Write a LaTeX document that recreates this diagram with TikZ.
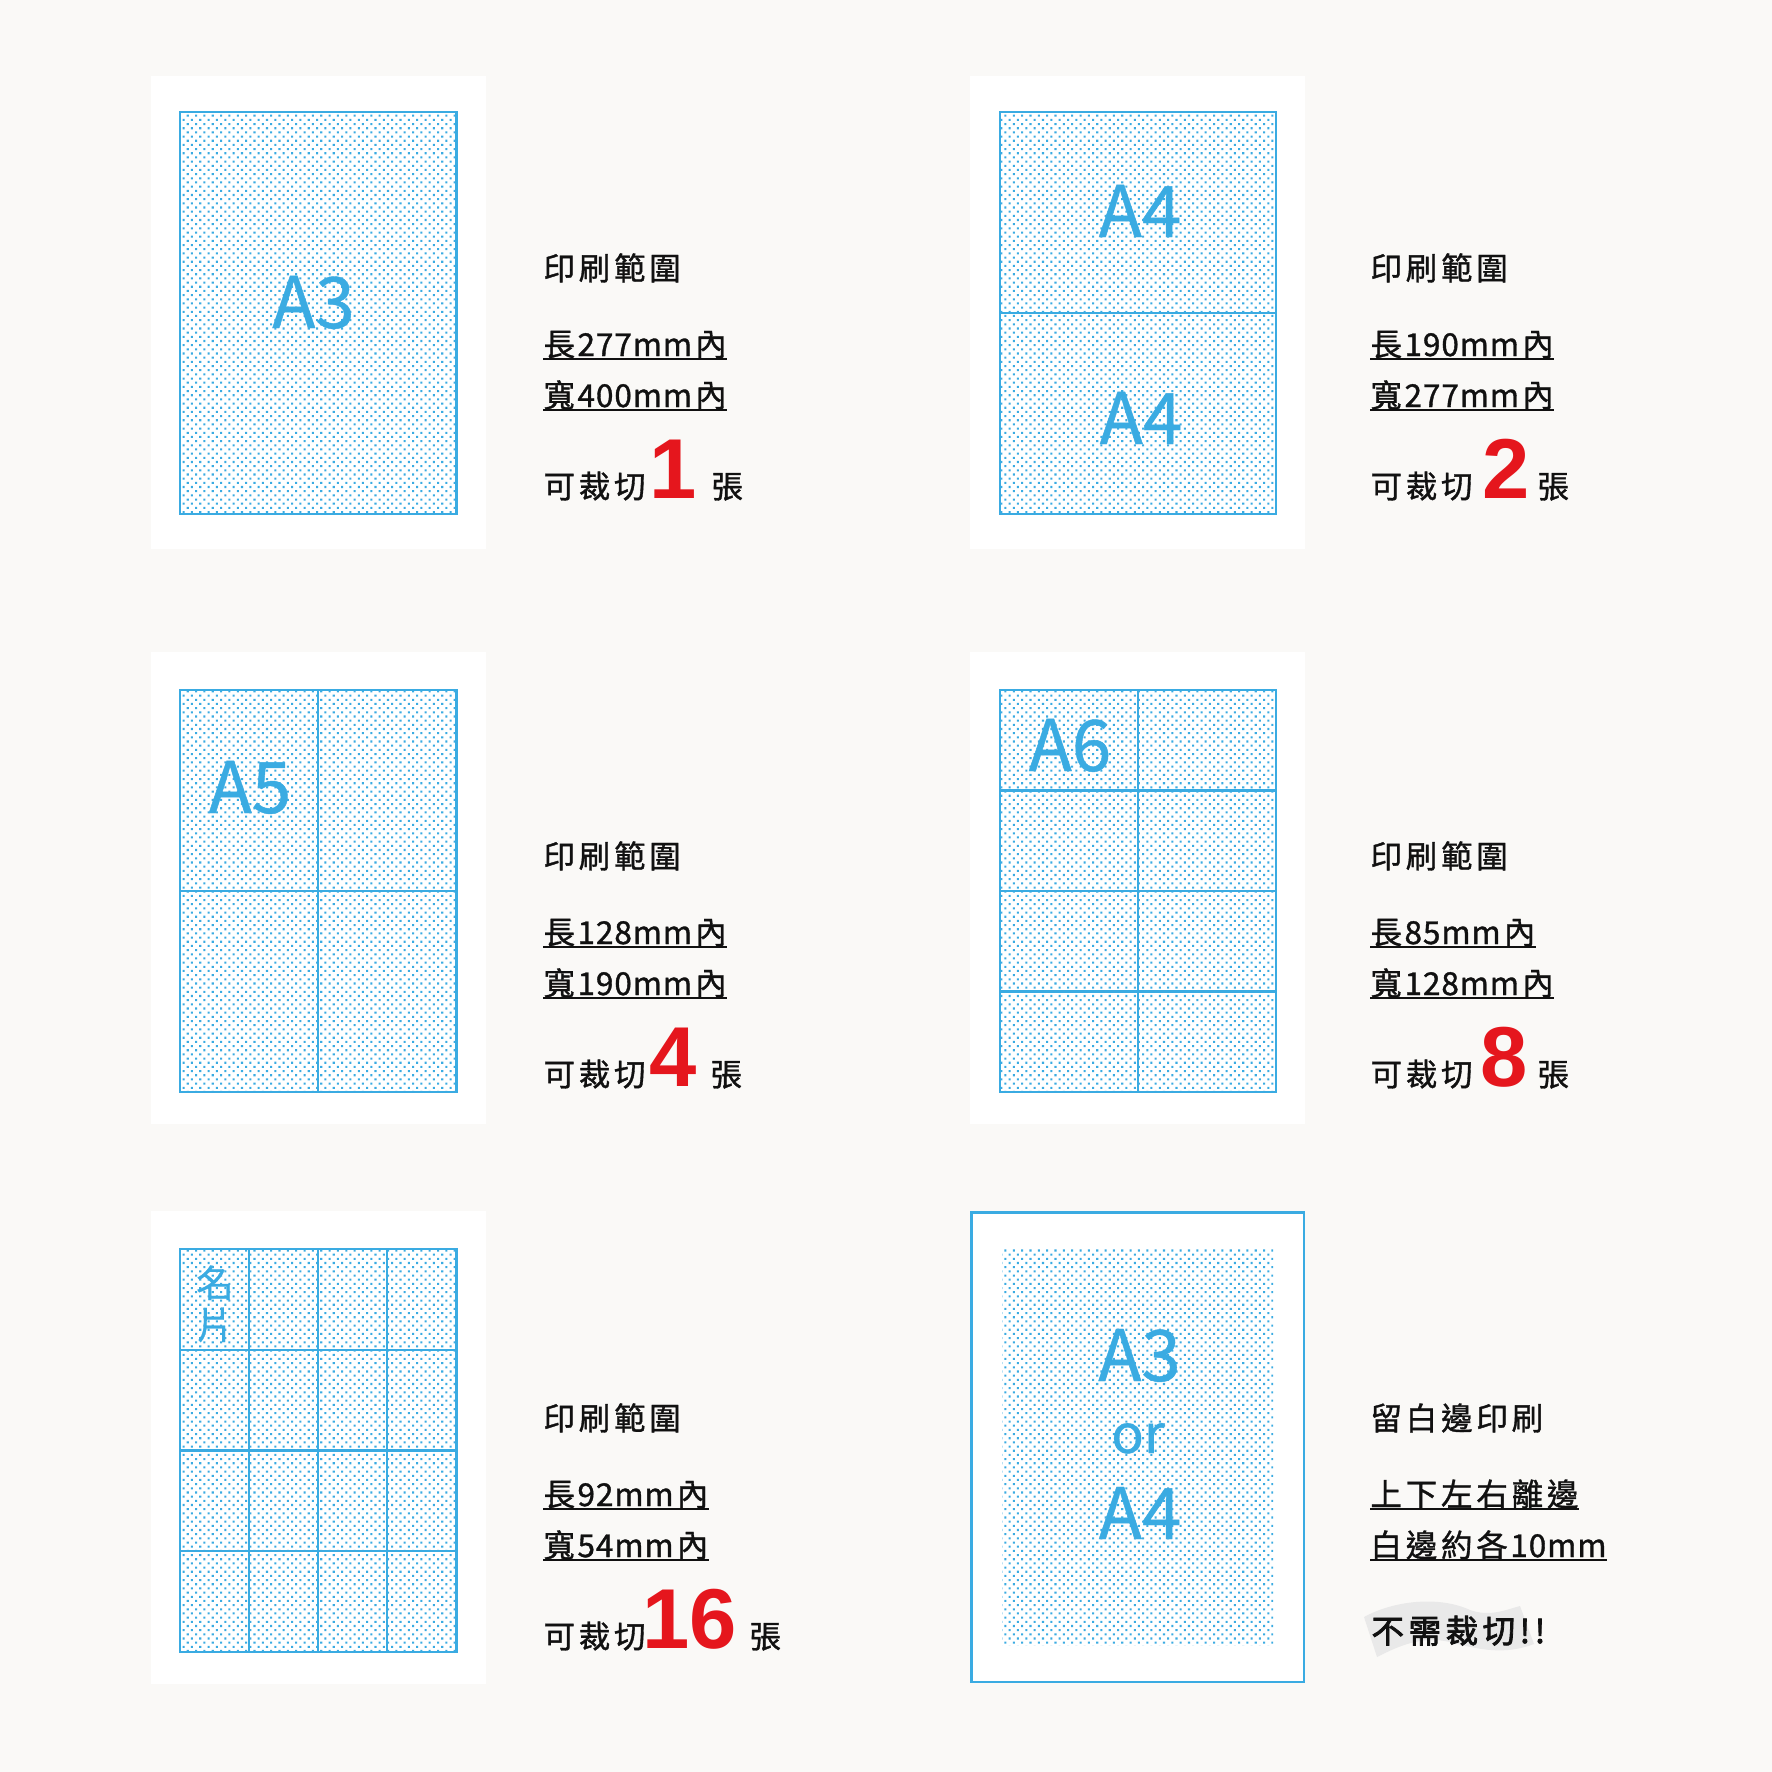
\documentclass[tikz,border=0pt]{standalone}
\usepackage{fontspec}
\setmainfont{Noto Sans CJK TC}
\newfontfamily\cjk[LetterSpace=12,FakeBold=1.1]{Noto Sans CJK TC}
\newfontfamily\latf[LetterSpace=3,FakeBold=1.1]{Noto Sans CJK TC}
\newfontfamily\cjkhv[LetterSpace=14,FakeBold=2.4]{Noto Sans CJK TC}
\newfontfamily\lab[FakeBold=0.6]{Noto Sans CJK TC}
\newfontfamily\numf{Liberation Sans}
\newcommand\latpart[1]{\hspace{0.08em}{\latf #1}\hspace{0.1em}}
\usetikzlibrary{patterns.meta}
\definecolor{bg}{HTML}{FAF9F7}
\definecolor{pblue}{HTML}{3AABE2}
\definecolor{pred}{HTML}{E5161D}
\definecolor{ink}{HTML}{111111}
\definecolor{hl}{HTML}{E9E9E9}
\begin{document}
\begin{tikzpicture}[x=0.4pt,y=-0.4pt,
  panel/.style={fill=white},
  sheet/.style={pattern={Dots[distance=2.36pt,radius=0.58pt,angle=45]},pattern color=pblue},
  cutline/.style={draw=pblue,line width=0.85pt},
  body/.style={font=\cjk\fontsize{12.6}{14}\selectfont,text=ink,inner sep=0pt,anchor=base west},
  ul/.style={draw=ink,line width=0.85pt},
  bignum/.style={font=\numf\bfseries\fontsize{34}{36}\selectfont,text=pred,inner sep=0pt,anchor=base},
  sizelab/.style={font=\lab\fontsize{28.4}{30}\selectfont,text=pblue,inner sep=0pt,anchor=base},
  smalllab/.style={font=\lab\fontsize{15}{16}\selectfont,text=pblue,inner sep=0pt,anchor=base}
]
\useasboundingbox (0,0) rectangle (1772,1772);
\fill[bg] (0,0) rectangle (1772,1772);

% ---------- Panel 1: A3
\fill[panel] (151,76) rectangle (486,549);
\fill[sheet] (180,112) rectangle (456.5,514);
\draw[cutline] (180,112) rectangle (456.5,514);
\node[sizelab] (la3) at (313.5,328) {A3};

% ---------- Panel 2: A4 x2
\fill[panel] (970,76) rectangle (1305,549);
\fill[sheet] (1000,112) rectangle (1276,514);
\draw[cutline] (1000,112) rectangle (1276,514);
\draw[cutline] (1000,313) -- (1276,313);
\node[sizelab] (la4a) at (1140,237) {A4};
\node[sizelab] (la4b) at (1141,444) {A4};

% ---------- Panel 3: A5 x4
\fill[panel] (151,652) rectangle (486,1124);
\fill[sheet] (180,690) rectangle (456.5,1092);
\draw[cutline] (180,690) rectangle (456.5,1092);
\draw[cutline] (318.25,690) -- (318.25,1092);
\draw[cutline] (180,891) -- (456.5,891);
\node[sizelab] (la5) at (250,813) {A5};

% ---------- Panel 4: A6 x8
\fill[panel] (970,652) rectangle (1305,1124);
\fill[sheet] (1000,690) rectangle (1276,1092);
\draw[cutline] (1000,690) rectangle (1276,1092);
\draw[cutline] (1138,690) -- (1138,1092);
\foreach \yy in {790.5,891,991.5} \draw[cutline] (1000,\yy) -- (1276,\yy);
\node[sizelab] (la6) at (1070,771) {A6};

% ---------- Panel 5: business cards x16
\fill[panel] (151,1211) rectangle (486,1684);
\fill[sheet] (180,1249) rectangle (456.5,1652);
\draw[cutline] (180,1249) rectangle (456.5,1652);
\foreach \xx in {249.1,318.25,387.4} \draw[cutline] (\xx,1249) -- (\xx,1652);
\foreach \yy in {1349.75,1450.5,1551.25} \draw[cutline] (180,\yy) -- (456.5,\yy);
\node[smalllab] (lm1) at (215,1297) {名};
\node[smalllab] (lm2) at (215,1339) {片};

% ---------- Panel 6: A3 or A4 with margin
\fill[panel,draw=pblue,line width=0.85pt] (971.5,1212.5) rectangle (1304,1682);
\fill[sheet] (1002,1248) rectangle (1273,1645);
\node[sizelab] (lb3) at (1139.5,1381) {A3};
\node[sizelab,font=\lab\fontsize{21.5}{24}\selectfont] (lor) at (1138,1453) {or};
\node[sizelab] (lb4) at (1140,1539) {A4};

% ---------- Text block 1
\node[body] (t1a) at (543,280) {印刷範圍};
\node[body] (t1b) at (543,356) {長\latpart{277mm}內};
\node[body] (t1c) at (543,407) {寬\latpart{400mm}內};
\draw[ul] ([yshift=-1.2pt]t1b.base west) -- ([yshift=-1.2pt]t1b.base east);
\draw[ul] ([yshift=-1.2pt]t1c.base west) -- ([yshift=-1.2pt]t1c.base east);
\node[body] (t1d) at (543,498) {可裁切};
\node[bignum] (n1) at (673.5,498) {1};
\node[body] (t1e) at (711,498) {張};

% ---------- Text block 2
\node[body] (t2a) at (1370,280) {印刷範圍};
\node[body] (t2b) at (1370,356) {長\latpart{190mm}內};
\node[body] (t2c) at (1370,407) {寬\latpart{277mm}內};
\draw[ul] ([yshift=-1.2pt]t2b.base west) -- ([yshift=-1.2pt]t2b.base east);
\draw[ul] ([yshift=-1.2pt]t2c.base west) -- ([yshift=-1.2pt]t2c.base east);
\node[body] (t2d) at (1370,498) {可裁切};
\node[bignum] (n2) at (1506,498) {2};
\node[body] (t2e) at (1537,498) {張};

% ---------- Text block 3
\node[body] (t3a) at (543,868) {印刷範圍};
\node[body] (t3b) at (543,944) {長\latpart{128mm}內};
\node[body] (t3c) at (543,995) {寬\latpart{190mm}內};
\draw[ul] ([yshift=-1.2pt]t3b.base west) -- ([yshift=-1.2pt]t3b.base east);
\draw[ul] ([yshift=-1.2pt]t3c.base west) -- ([yshift=-1.2pt]t3c.base east);
\node[body] (t3d) at (543,1086) {可裁切};
\node[bignum] (n3) at (673.5,1086) {4};
\node[body] (t3e) at (710,1086) {張};

% ---------- Text block 4
\node[body] (t4a) at (1370,868) {印刷範圍};
\node[body] (t4b) at (1370,944) {長\latpart{85mm}內};
\node[body] (t4c) at (1370,995) {寬\latpart{128mm}內};
\draw[ul] ([yshift=-1.2pt]t4b.base west) -- ([yshift=-1.2pt]t4b.base east);
\draw[ul] ([yshift=-1.2pt]t4c.base west) -- ([yshift=-1.2pt]t4c.base east);
\node[body] (t4d) at (1370,1086) {可裁切};
\node[bignum] (n4) at (1504,1086) {8};
\node[body] (t4e) at (1537,1086) {張};

% ---------- Text block 5
\node[body] (t5a) at (543,1430) {印刷範圍};
\node[body] (t5b) at (543,1506) {長\latpart{92mm}內};
\node[body] (t5c) at (543,1557) {寬\latpart{54mm}內};
\draw[ul] ([yshift=-1.2pt]t5b.base west) -- ([yshift=-1.2pt]t5b.base east);
\draw[ul] ([yshift=-1.2pt]t5c.base west) -- ([yshift=-1.2pt]t5c.base east);
\node[body] (t5d) at (543,1648) {可裁切};
\node[bignum] (n5) at (690,1648) {16};
\node[body] (t5e) at (749,1648) {張};

% ---------- Text block 6
\node[body] (t6a) at (1370,1430) {留白邊印刷};
\node[body] (t6b) at (1370,1506) {上下左右離邊};
\node[body] (t6c) at (1370,1557) {白邊約各\latpart{10mm}};
\draw[ul] ([yshift=-1.2pt]t6b.base west) -- ([yshift=-1.2pt]t6b.base east);
\draw[ul] ([yshift=-1.2pt]t6c.base west) -- ([yshift=-1.2pt]t6c.base east);
\fill[hl] (1364,1617) .. controls (1395,1600) and (1440,1596) .. (1470,1610)
  .. controls (1490,1617) and (1505,1610) .. (1520,1606) -- (1534,1644)
  .. controls (1505,1655) and (1480,1650) .. (1450,1642)
  .. controls (1420,1635) and (1395,1648) .. (1377,1657) -- cycle;
\node[body,font=\cjkhv\fontsize{13}{14}\selectfont] (t6d) at (1371,1643) {不需裁切!!};
\end{tikzpicture}
\end{document}
